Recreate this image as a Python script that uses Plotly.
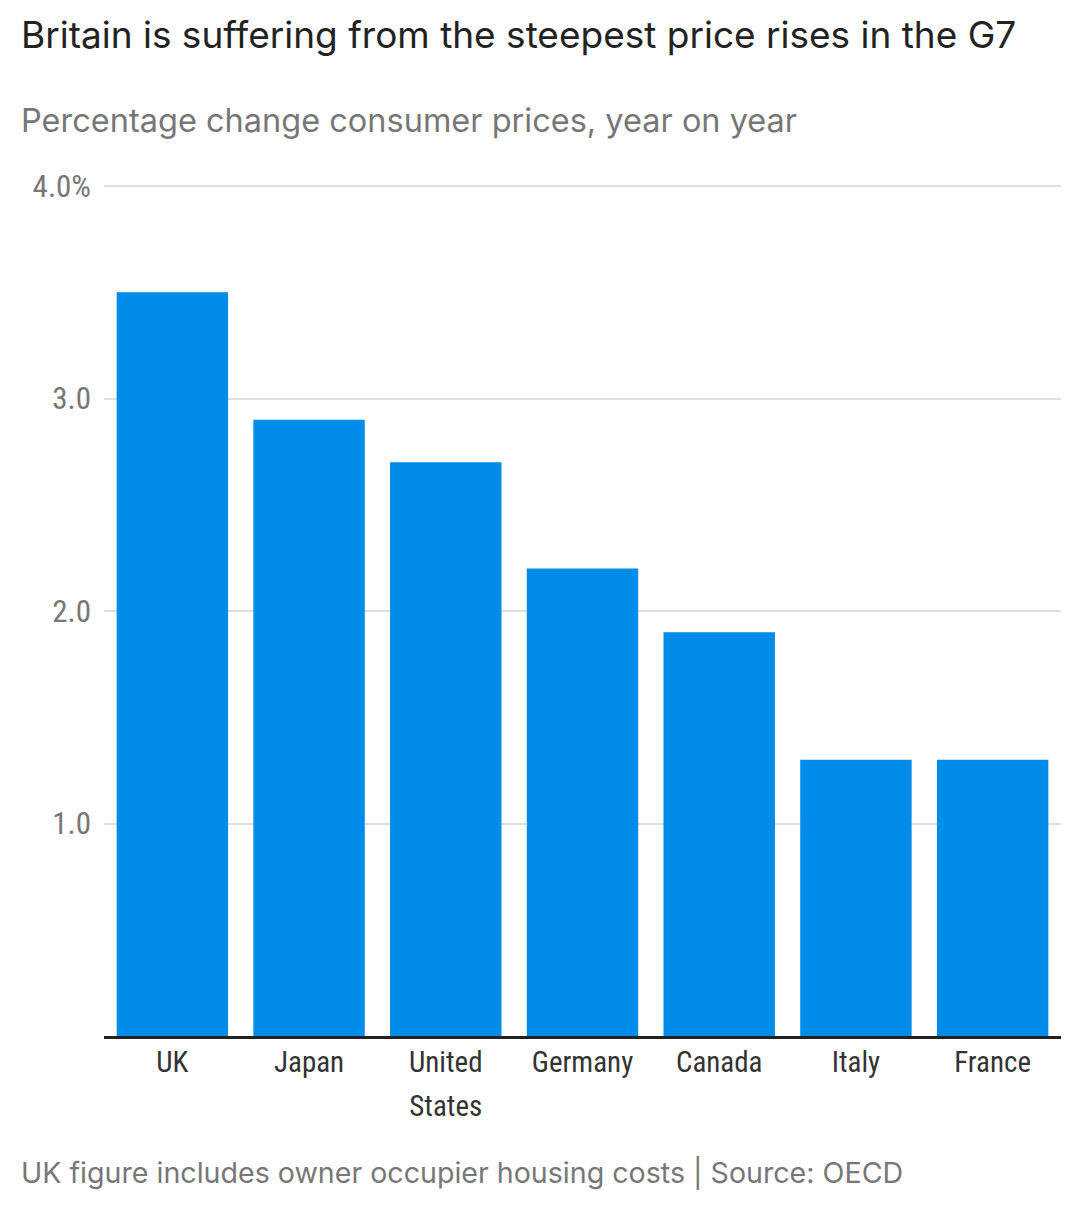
import plotly.graph_objects as go

categories = ["UK", "Japan", "United States", "Germany", "Canada", "Italy", "France"]
x_labels = ["UK", "Japan", "United<br>States", "Germany", "Canada", "Italy", "France"]
values = [3.5, 2.9, 2.7, 2.2, 1.9, 1.3, 1.3]
tick_vals = [1, 2, 3, 4]
tick_text = ["1.0", "2.0", "3.0", "4.0%"]
title = "Britain is suffering from the steepest price rises in the G7"
subtitle = "Percentage change consumer prices, year on year"
footer = "UK figure includes owner occupier housing costs | Source: OECD"

W, H = 1080, 1221
OFF = 8
L, R, T, B = 104 - OFF, 1061 - OFF, 184 - OFF, 1036 - OFF
NARROW = "Roboto Condensed, DejaVu Sans Condensed, Roboto"


def py(target):
    return (B - (target - OFF)) / (B - T)


X_TEXT = (22 - 3 - OFF - L) / (R - L)
x_ticktext = ["<br>".join(f'<span style="font-size:29px">{p}</span>' for p in s.split("<br>")) for s in x_labels]

fig = go.Figure(go.Bar(x=categories, y=values, marker=dict(color="#008CE8", line_width=0), width=0.815))
fig.update_layout(
    width=W, height=H, autosize=False,
    margin=dict(l=L, r=W - R, t=T, b=H - B, pad=0, autoexpand=False),
    paper_bgcolor="white", plot_bgcolor="white", showlegend=False,
    font=dict(family="Inter", color="#777777"),
    xaxis=dict(range=[-0.5, 6.5], tickvals=categories, ticktext=x_ticktext,
               tickfont=dict(family=NARROW, size=34, color="#333333"),
               showgrid=False, showline=True, linecolor="#222222", linewidth=2.5, automargin=False,
               ticks="", tickangle=0, fixedrange=True, ticklabelstandoff=-8),
    yaxis=dict(range=[0, 4.01], tickvals=tick_vals, ticktext=tick_text,
               tickfont=dict(family=NARROW, size=31, color="#777777"),
               showgrid=True, gridcolor="#DFDFDF", gridwidth=2, zeroline=False, showline=False, automargin=False,
               ticks="", ticklen=0, fixedrange=True, ticklabelstandoff=12),
)
for text, y, size, color in [(title, 34, 37, "#222222"), (subtitle, 121, 32.5, "#777777"), (footer, 1172, 28.6, "#777777")]:
    fig.add_annotation(text=text, xref="paper", yref="paper", x=X_TEXT, y=py(y), xanchor="left", yanchor="middle",
                       showarrow=False, font=dict(family="Inter", size=size, color=color))
fig.write_html("out.html")
